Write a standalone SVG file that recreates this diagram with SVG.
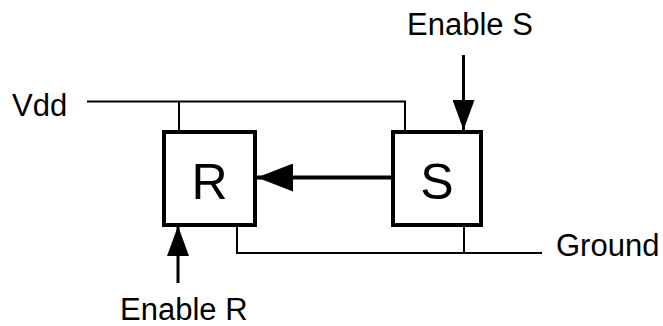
<svg xmlns="http://www.w3.org/2000/svg" width="663" height="326" viewBox="0 0 663 326">
<style>
.box{fill:#fff;stroke:#000;stroke-width:4}
.wire{fill:none;stroke:#000;stroke-width:2}
.ctl{fill:none;stroke:#000;stroke-width:3}
.main{fill:none;stroke:#000;stroke-width:4}
.lbl{font-family:"Liberation Sans",Arial,sans-serif;font-size:31px;fill:#000}
.big{font-family:"Liberation Sans",Arial,sans-serif;font-size:50px;fill:#000;text-anchor:middle}
</style>
<defs>
<marker id="ah" markerUnits="userSpaceOnUse" viewBox="0 0 36 28" markerWidth="36" markerHeight="28" refX="36" refY="14" orient="auto">
<path d="M0,0 L36,14 L0,28 Z" fill="#000"/>
</marker>
<marker id="ahs" markerUnits="userSpaceOnUse" viewBox="0 0 30 22" markerWidth="30" markerHeight="22" refX="30" refY="11" orient="auto">
<path d="M0,0 L30,11 L0,22 Z" fill="#000"/>
</marker>
</defs>
<g id="connectors">
<polyline class="wire" points="87,101.5 405,101.5 405,131"/>
<line class="wire" x1="179" y1="101.5" x2="179" y2="131"/>
<polyline class="wire" points="237,226 237,253 542,253"/>
<line class="wire" x1="464" y1="226" x2="464" y2="253"/>
<line class="main" x1="392" y1="177.5" x2="257" y2="177.5" marker-end="url(#ah)"/>
<line class="ctl" x1="463.5" y1="55" x2="463.5" y2="130" marker-end="url(#ahs)"/>
<line class="ctl" x1="178" y1="283" x2="178" y2="226" marker-end="url(#ahs)"/>
</g>
<g id="R">
<rect class="box" x="164" y="132" width="91" height="93"/>
<text class="big" x="209.5" y="199">R</text>
</g>
<g id="S">
<rect class="box" x="393" y="132" width="88" height="93"/>
<text class="big" x="437" y="199">S</text>
</g>
<g id="labels">
<text class="lbl" x="12" y="116">Vdd</text>
<text class="lbl" x="407" y="35">Enable S</text>
<text class="lbl" x="556" y="256">Ground</text>
<text class="lbl" x="120" y="320">Enable R</text>
</g>
</svg>
